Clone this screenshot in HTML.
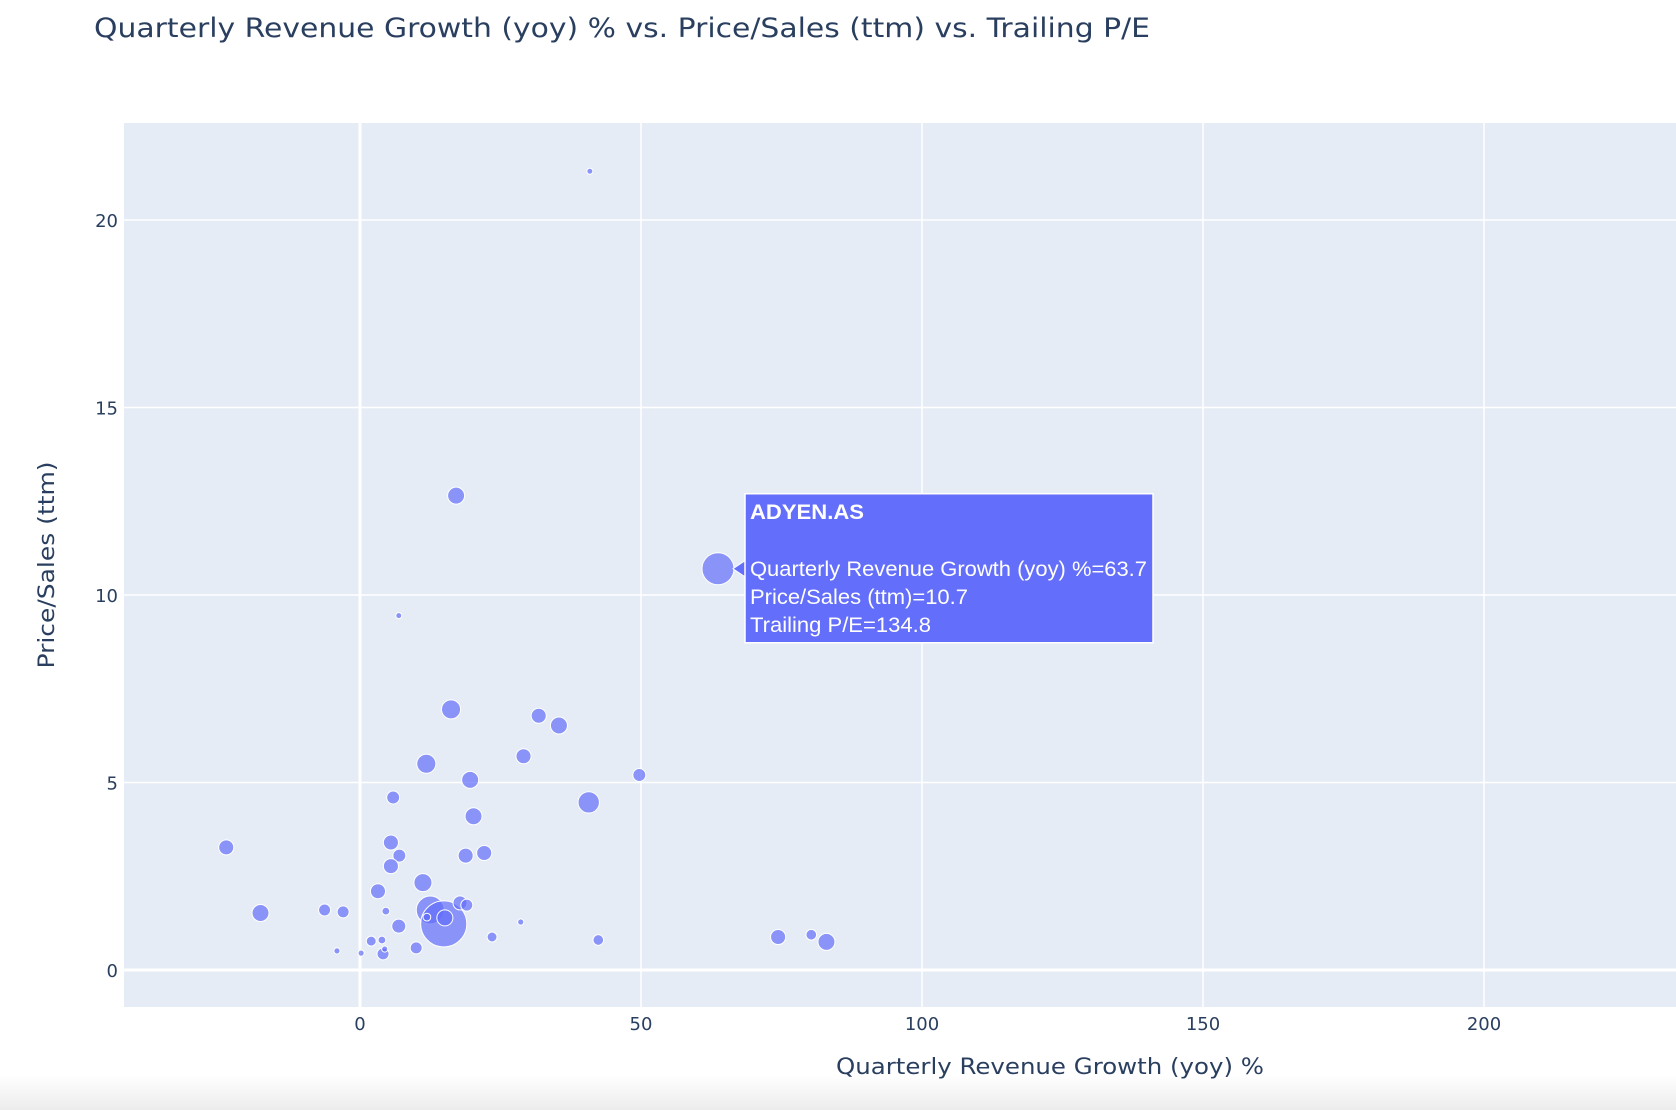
<!DOCTYPE html>
<html><head><meta charset="utf-8"><style>
html,body{margin:0;padding:0;width:1676px;height:1110px;overflow:hidden;background:#fff;font-family:"DejaVu Sans",Verdana,sans-serif;}
#bar{position:absolute;left:0;top:1075px;width:1676px;height:35px;background:linear-gradient(#fff,#ececec);}
svg text{font-family:"DejaVu Sans",Verdana,sans-serif;}
</style></head><body>
<div id="bar"></div>
<svg id="chart" width="1676" height="1110" style="position:absolute;left:0;top:0">
<text x="94" y="37" font-size="27" textLength="1056" lengthAdjust="spacingAndGlyphs" fill="#2a3f5f">Quarterly Revenue Growth (yoy) % vs. Price/Sales (ttm) vs. Trailing P/E</text>
<rect x="124" y="123" width="1552" height="884" fill="#e5ecf6"/>
<g id="grid"></g>
<g id="marks"></g>
<g id="ticks"></g>
<text x="1050" y="1074" text-anchor="middle" font-size="22" textLength="428" lengthAdjust="spacingAndGlyphs" fill="#2a3f5f">Quarterly Revenue Growth (yoy) %</text>
<text transform="translate(54,565) rotate(-90)" text-anchor="middle" font-size="22" textLength="207" lengthAdjust="spacingAndGlyphs" fill="#2a3f5f">Price/Sales (ttm)</text>
<g id="tooltip"></g>
</svg>
<script>
const xs=[40.9,17.1,63.7,6.9,16.2,31.8,35.4,11.8,29.1,19.6,49.7,40.7,5.9,20.2,-23.8,5.5,7.0,18.8,22.1,5.5,3.2,11.2,-17.7,-6.3,-3.0,4.6,12.5,14.9,15.1,17.8,19.0,11.9,28.6,23.5,6.9,2.0,3.9,4.1,4.4,10.0,-4.1,0.2,74.4,80.3,83.0,42.4];
const ys=[21.3,12.65,10.7,9.45,6.95,6.78,6.52,5.5,5.7,5.07,5.2,4.47,4.6,4.1,3.27,3.4,3.05,3.05,3.12,2.77,2.1,2.33,1.52,1.6,1.55,1.57,1.6,1.23,1.39,1.79,1.73,1.41,1.28,0.88,1.17,0.77,0.8,0.43,0.56,0.59,0.51,0.45,0.88,0.94,0.75,0.8];
const pes=[4.7,38,134.8,4.7,48,30,38,48,30,38,22,60,22,38,30,30,22,30,30,30,30,43,38,19,19,8,103,279,34,26,19,8,5,13,26,13,8,19,5,19,5,5,30,15,38,15];
const xTicks=[0,50,100,150,200];
const yTicks=[0,5,10,15,20];
const NS="http://www.w3.org/2000/svg";
const X=v=>360+v*5.62, Y=v=>970-v*37.5, R=p=>16*Math.sqrt(p/134.8);
function mk(t,a,parent){const e=document.createElementNS(NS,t);for(const k in a)e.setAttribute(k,a[k]);document.getElementById(parent).appendChild(e);return e;}
xTicks.forEach(t=>{
 const l=mk('line',{x1:X(t),x2:X(t),y1:123,y2:1007,stroke:'#fff','stroke-width':t===0?3:1.5},'grid');
 
 
 const tx=mk('text',{x:X(t),y:1030,'text-anchor':'middle','font-size':18,fill:'#2a3f5f'},'ticks');tx.textContent=t;
 
 
});
yTicks.forEach(t=>{
 const l=mk('line',{x1:124,x2:1676,y1:Y(t),y2:Y(t),stroke:'#fff','stroke-width':t===0?3:1.5},'grid');
 
 
 const tx=mk('text',{x:118,y:Y(t)+7,'text-anchor':'end','font-size':18,fill:'#2a3f5f'},'ticks');tx.textContent=t;
 
 
});
xs.forEach((x,i)=>{
 const c=mk('circle',{cx:X(x),cy:Y(ys[i]),r:R(pes[i]),fill:'#636efa','fill-opacity':0.7,stroke:'#fff','stroke-width':1},'marks');
 
 
});
const ax=X(xs[2])+R(pes[2]), ay=Y(ys[2]);
const bx=ax+11, by=ay-75;
mk('path',{d:`M${ax-1},${ay} L${bx},${ay-8} L${bx},${ay+8} Z`,fill:'#636efa',stroke:'#fff'},'tooltip');
mk('rect',{x:bx,y:by,width:408,height:149,fill:'#636efa',stroke:'#fff','stroke-width':1.5},'tooltip');
const lines=[['ADYEN.AS',18,'bold',114],['Quarterly Revenue Growth (yoy) %=63.7',75,'normal',397],['Price/Sales (ttm)=10.7',103,'normal',218],['Trailing P/E=134.8',131,'normal',181]];
lines.forEach(l=>{const t=mk('text',{x:bx+5,y:by+l[1]+7,'font-size':21,fill:'#fff','font-weight':l[2],textLength:l[3],lengthAdjust:'spacingAndGlyphs'},'tooltip');t.textContent=l[0];
 t.setAttribute('style','font-family:"Liberation Sans",Arial,sans-serif');
 
 
});
</script>
</body></html>
